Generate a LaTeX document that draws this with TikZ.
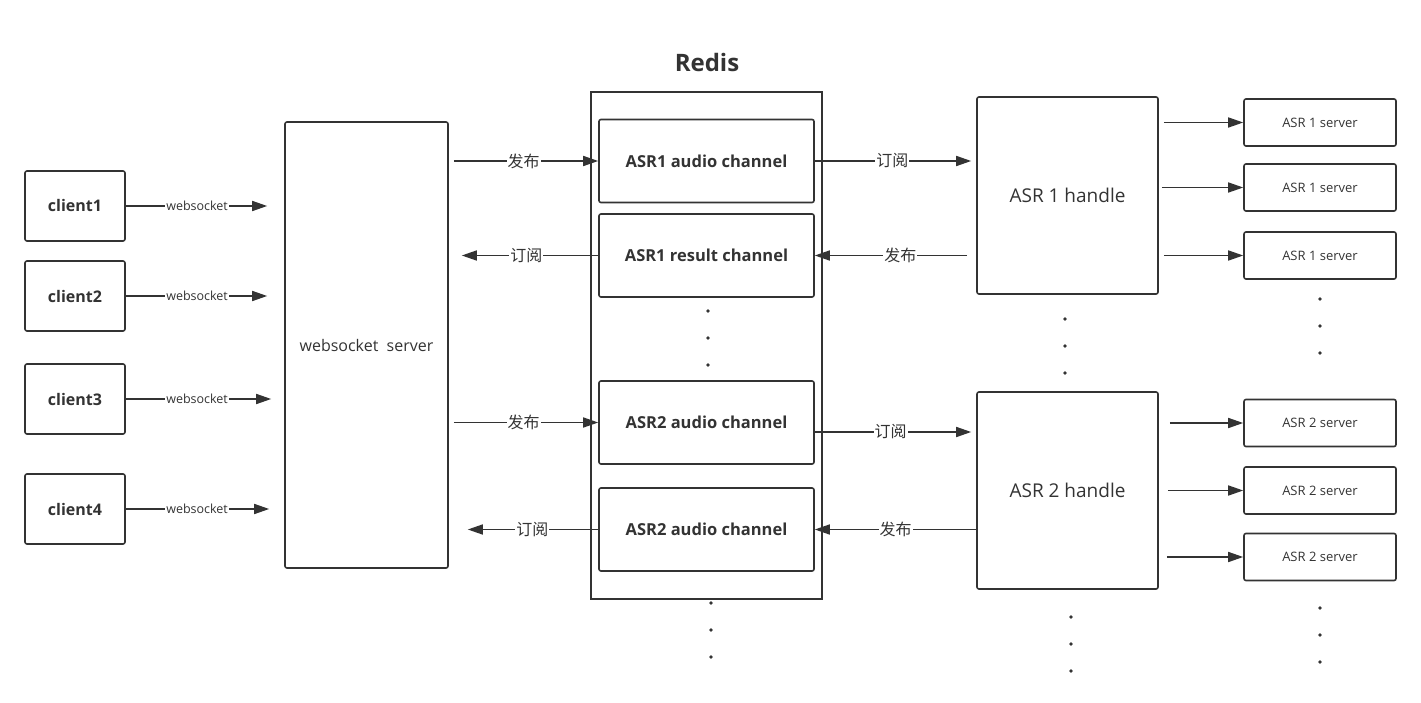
\documentclass[tikz,border=0pt]{standalone}
\usepackage{fontspec}
\setmainfont{Open Sans}
\newfontfamily\cjk{Noto Sans CJK SC}
\usepackage{xcolor}
\usepackage{tikz}
\usetikzlibrary{arrows, arrows.meta}
\definecolor{ink}{HTML}{333333}
\tikzset{
  box/.style={draw=ink, line width=1.6pt, rounded corners=2pt, inner sep=0pt, text=ink},
  arr/.style={-{Triangle[length=15pt,width=10pt]}, draw=ink, line width=1.6pt},
  pub/.style={fill=white, inner sep=1pt, text=ink, font=\cjk\fontsize{16}{18}\selectfont},
  wsl/.style={fill=white, inner sep=1pt, text=ink, font=\fontsize{12.5}{14}\selectfont},
}

\begin{document}
\begin{tikzpicture}[x=1pt, y=-1pt]
\useasboundingbox (0,0) rectangle (1421,703);
% clients
\node[box, minimum width=100pt, minimum height=70pt, font=\bfseries\fontsize{16}{19}\selectfont] (c1) at (75,206) {client1};
\node[box, minimum width=100pt, minimum height=70pt, font=\bfseries\fontsize{16}{19}\selectfont] (c2) at (75,296) {client2};
\node[box, minimum width=100pt, minimum height=70pt, font=\bfseries\fontsize{16}{19}\selectfont] (c3) at (75,399) {client3};
\node[box, minimum width=100pt, minimum height=70pt, font=\bfseries\fontsize{16}{19}\selectfont] (c4) at (75,509) {client4};
\node[box, minimum width=163pt, minimum height=446pt, font=\fontsize{16}{19}\selectfont] (ws) at (366.5,345) {websocket\ \ server};
\draw[arr, shorten >=17pt] (c1) -- (c1 -| ws.west) node[wsl, pos=0.45] {websocket};
\draw[arr, shorten >=17pt] (c2) -- (c2 -| ws.west) node[wsl, pos=0.45] {websocket};
\draw[arr, shorten >=13pt] (c3) -- (c3 -| ws.west) node[wsl, pos=0.45] {websocket};
\draw[arr, shorten >=15pt] (c4) -- (c4 -| ws.west) node[wsl, pos=0.45] {websocket};
% redis
\node[box, rounded corners=0pt, minimum width=231pt, minimum height=507pt] (redis) at (706.5,345.5) {};
\node[text=ink, font=\bfseries\fontsize{24}{28}\selectfont] (rt) at (707,63) {Redis};
\node[box, minimum width=215pt, minimum height=83pt, font=\bfseries\fontsize{16.5}{19}\selectfont] (a1) at (706.5,161) {ASR1 audio channel};
\node[box, minimum width=215pt, minimum height=83pt, font=\bfseries\fontsize{16.5}{19}\selectfont] (r1) at (706.5,255.5) {ASR1 result channel};
\node[box, minimum width=215pt, minimum height=83pt, font=\bfseries\fontsize{16.5}{19}\selectfont] (a2) at (706.5,422.5) {ASR2 audio channel};
\node[box, minimum width=215pt, minimum height=83pt, font=\bfseries\fontsize{16.5}{19}\selectfont] (r2) at (706.5,529.5) {ASR2 audio channel};
\draw[arr, shorten <=5pt] (ws.east |- a1) -- (a1) node[pub, pos=0.5] {发布};
\draw[arr, shorten >=13pt] (r1) -- (r1 -| ws.east) node[pub, pos=0.48] {订阅};
\draw[arr, shorten <=5pt] (ws.east |- a2) -- (a2) node[pub, pos=0.5] {发布};
\draw[arr, shorten >=19pt] (r2) -- (r2 -| ws.east) node[pub, pos=0.44] {订阅};
% handles
\node[box, minimum width=181pt, minimum height=197pt, font=\fontsize{19}{22}\selectfont] (h1) at (1067.5,195.5) {ASR 1 handle};
\node[box, minimum width=181pt, minimum height=197pt, font=\fontsize{19}{22}\selectfont] (h2) at (1067.5,490.5) {ASR 2 handle};
\draw[arr, shorten >=5pt] (a1) -- (a1 -| h1.west) node[pub, pos=0.48] {订阅};
\draw[arr, shorten <=9pt] (h1.west |- r1) -- (r1) node[pub, pos=0.47] {发布};
\draw[arr, shorten >=5pt] ([yshift=-9.5pt]a2.east) -- ([yshift=-9.5pt]a2.east -| h2.west) node[pub, pos=0.47] {订阅};
\draw[arr] (h2.west |- r2) -- (r2) node[pub, pos=0.5] {发布};
% servers
\node[box, minimum width=152pt, minimum height=47pt, font=\fontsize{13}{16}\selectfont] (s11) at (1320,122.5) {ASR 1 server};
\node[box, minimum width=152pt, minimum height=47pt, font=\fontsize{13}{16}\selectfont] (s12) at (1320,187.5) {ASR 1 server};
\node[box, minimum width=152pt, minimum height=47pt, font=\fontsize{13}{16}\selectfont] (s13) at (1320,255.5) {ASR 1 server};
\node[box, minimum width=152pt, minimum height=47pt, font=\fontsize{13}{16}\selectfont] (s21) at (1320,423) {ASR 2 server};
\node[box, minimum width=152pt, minimum height=47pt, font=\fontsize{13}{16}\selectfont] (s22) at (1320,490.5) {ASR 2 server};
\node[box, minimum width=152pt, minimum height=47pt, font=\fontsize{13}{16}\selectfont] (s23) at (1320,557) {ASR 2 server};
\draw[arr, shorten <=5pt] (h1.east |- s11) -- (s11);
\draw[arr, shorten <=3pt] (h1.east |- s12) -- (s12);
\draw[arr, shorten <=5pt] (h1.east |- s13) -- (s13);
\draw[arr, shorten <=11pt] (h2.east |- s21) -- (s21);
\draw[arr, shorten <=9pt] (h2.east |- s22) -- (s22);
\draw[arr, shorten <=8pt] (h2.east |- s23) -- (s23);
% dots
\fill[ink] (708,311) circle (1.8pt) (708,338) circle (1.8pt) (708,365) circle (1.8pt);
\fill[ink] (711,603) circle (1.8pt) (711,630) circle (1.8pt) (711,657) circle (1.8pt);
\fill[ink] (1065,319) circle (1.8pt) (1065,346) circle (1.8pt) (1065,373) circle (1.8pt);
\fill[ink] (1071,617) circle (1.8pt) (1071,644) circle (1.8pt) (1071,671) circle (1.8pt);
\fill[ink] (1320,299) circle (1.8pt) (1320,326) circle (1.8pt) (1320,353) circle (1.8pt);
\fill[ink] (1320,608) circle (1.8pt) (1320,635) circle (1.8pt) (1320,662) circle (1.8pt);
\end{tikzpicture}
\end{document}
